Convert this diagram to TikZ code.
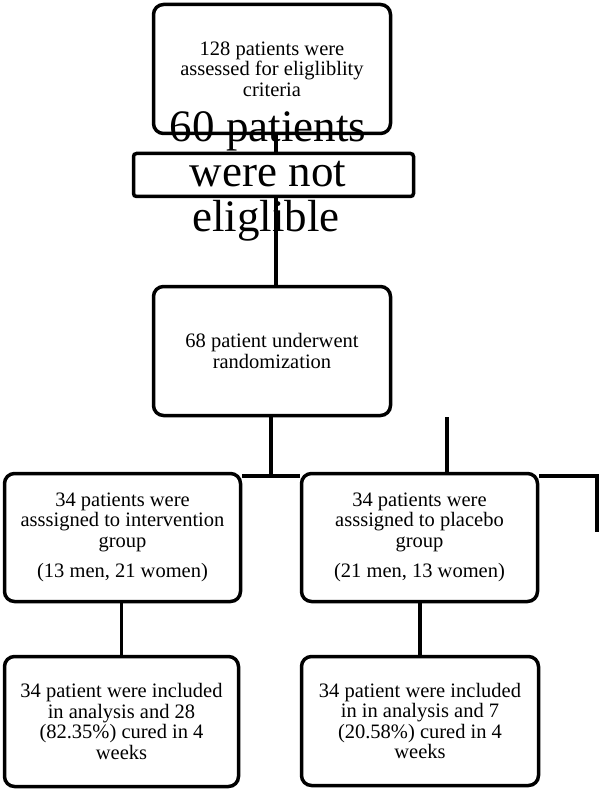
\documentclass[tikz,border=0pt]{standalone}
\usepackage{fontspec}
\setmainfont{Liberation Serif}
\begin{document}
\begin{tikzpicture}[x=1pt,y=-1pt,
  box/.style={draw,line width=3.5pt,rounded corners=10pt,inner sep=0pt,align=center,
    font=\fontsize{20.5}{20.5}\selectfont},
  bigtxt/.style={inner sep=0pt,anchor=base,font=\fontsize{45}{45}\selectfont},
  link/.style={line width=3.5pt}]
\useasboundingbox (0,0) rectangle (599,791);
% boxes
\node[box,minimum width=237pt,minimum height=129pt] (top) at (272,69)
  {128 patients were\\assessed for eligliblity\\criteria};
\node[draw,line width=3.5pt,rounded corners=3pt,minimum width=280pt,minimum height=43pt,inner sep=0pt] (excl) at (273.5,175) {};
\node[box,minimum width=237pt,minimum height=129pt] (rand) at (272,351)
  {68 patient underwent\\randomization};
\node[box,minimum width=236pt,minimum height=128pt] (midL) at (122.5,537.5)
  {34 patients were\\asssigned to intervention\\group\\[10pt](13 men, 21 women)};
\node[box,minimum width=236pt,minimum height=128pt] (midR) at (419.5,537.5)
  {34 patients were\\asssigned to placebo\\group\\[10pt](21 men, 13 women)};
\node[box,minimum width=234pt,minimum height=130pt] (botL) at (121.5,721.5)
  {34 patient were included\\in analysis and 28\\(82.35\%) cured in 4\\weeks};
\node[box,minimum width=237pt,minimum height=129pt] (botR) at (420,721)
  {34 patient were included\\in in analysis and 7\\(20.58\%) cured in 4\\weeks};
% large exclusion text
\node[bigtxt] (ex1) at (268,142) {60 patients};
\node[bigtxt] (ex2) at (268,187) {were not};
\node[bigtxt] (ex3) at (266,232) {eliglible};
% helper coordinates
\coordinate (vx) at (276,0);
\coordinate (rx) at (271,0);
\coordinate (px) at (447,417);
\coordinate (hy) at (0,476);
\coordinate (ec) at (597,476);
\coordinate (ee) at (597,532);
% connectors
\draw[link] (top.south -| vx) -- (excl.north -| vx);
\draw[link] (excl.south -| vx) -- (rand.north -| vx);
\draw[link] (rand.south -| rx) -- (hy -| rx);
\draw[link] (midL.east |- hy) -- (midR.west |- hy);
\draw[link] (px) -- (midR.north -| px);
\draw[link] (midR.east |- hy) -- (ec) -- (ee);
\draw[link] (midL.south -| botL.north) -- (botL.north);
\draw[link] (midR.south -| botR.north) -- (botR.north);
\end{tikzpicture}
\end{document}
